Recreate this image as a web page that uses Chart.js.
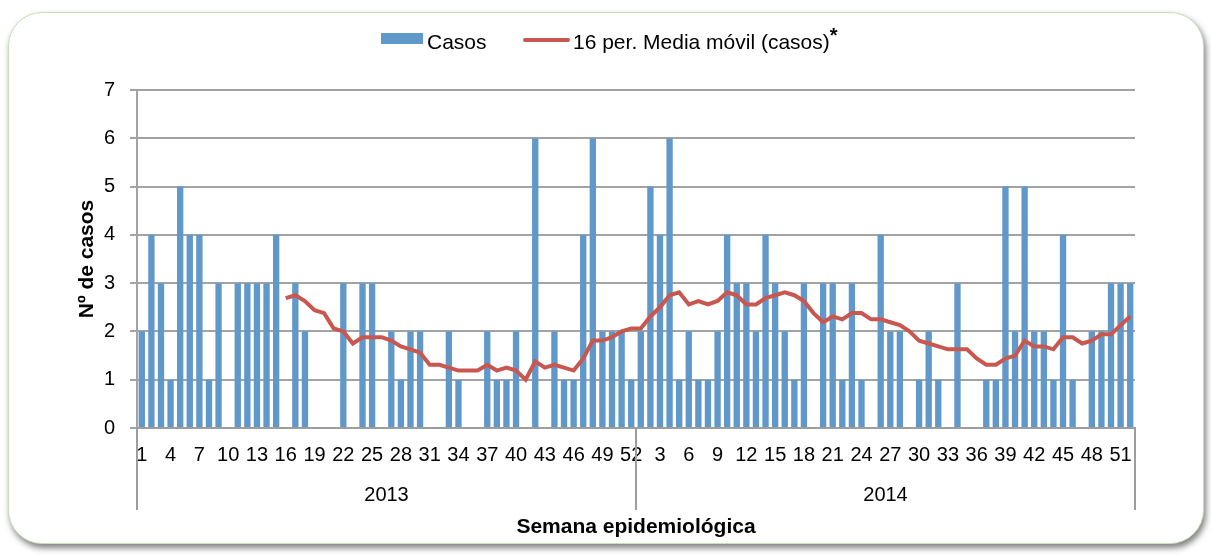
<!DOCTYPE html>
<html>
<head>
<meta charset="utf-8">
<script src="https://cdn.jsdelivr.net/npm/chart.js@4.4.1/dist/chart.umd.min.js"></script>
<style>
  html, body { margin: 0; padding: 0; background: #ffffff; }
  #wrap { position: relative; width: 1211px; height: 555px; overflow: hidden; font-family: "Liberation Sans", Arial, sans-serif; }
  #frame { position: absolute; left: 8px; top: 12px; width: 1194px; height: 530px; border: 1.5px solid #c7e0b5; border-radius: 34px; box-shadow: 2px 4px 6px rgba(0,0,0,0.5); background: #fff; }
  #c { position: absolute; left: 0; top: 0; }
  .lg { position: absolute; font-size: 21px; color: #000; line-height: 1; white-space: nowrap; }
</style>
</head>
<body>
<div id="wrap">
  <div id="frame"></div>
  <canvas id="c" width="1211" height="555"></canvas>
  <div style="position:absolute;left:381px;top:33px;width:42px;height:11px;background:#6198ca;"></div>
  <div class="lg" style="left:427px;top:31px;">Casos</div>
  <div style="position:absolute;left:523px;top:38px;width:47px;height:4px;background:#c8574f;border-radius:2px;"></div>
  <div class="lg" style="left:573px;top:31px;">16 per. Media móvil (casos)<span style="font-weight:bold;font-size:20px;position:relative;top:-7px;">*</span></div>
</div>
<script>
const weeks2013 = [1,2,3,4,5,6,7,8,9,10,11,12,13,14,15,16,17,18,19,20,21,22,23,24,25,26,27,28,29,30,31,32,33,34,35,36,37,38,39,40,41,42,43,44,45,46,47,48,49,50,51,52];
const weeks2014 = [1,2,3,4,5,6,7,8,9,10,11,12,13,14,15,16,17,18,19,20,21,22,23,24,25,26,27,28,29,30,31,32,33,34,35,36,37,38,39,40,41,42,43,44,45,46,47,48,49,50,51,52];
const years = ['2013', '2014'];

const casos = [
  2,4,3,1,5,4,4,1,3,0,3,3,3,3,4,0,3,2,0,0,0,3,0,3,3,0,
  2,1,2,2,0,0,2,1,0,0,2,1,1,2,0,6,0,2,1,1,4,6,2,2,2,1,
  2,5,4,6,1,2,1,1,2,4,3,3,2,4,3,2,1,3,0,3,3,1,3,1,0,4,
  2,2,0,1,2,1,0,3,0,0,1,1,5,2,5,2,2,1,4,1,0,2,2,3,3,3
];

const mediaMovil = [
  null,null,null,null,null,null,null,null,null,null,null,null,null,null,null,
  2.69,2.75,2.63,2.44,2.38,2.06,2.00,1.75,1.88,1.88,1.88,
  1.81,1.69,1.63,1.56,1.31,1.31,1.25,1.19,1.19,1.19,1.31,1.19,1.25,1.19,1.00,1.38,1.25,1.31,1.25,1.19,1.44,1.81,1.81,1.88,2.00,2.06,
  2.06,2.31,2.50,2.75,2.81,2.56,2.63,2.56,2.63,2.81,2.75,2.56,2.56,2.69,2.75,2.81,2.75,2.63,2.38,2.19,2.31,2.25,2.38,2.38,2.25,2.25,
  2.19,2.13,2.00,1.81,1.75,1.69,1.63,1.63,1.63,1.44,1.31,1.31,1.44,1.50,1.81,1.69,1.69,1.63,1.88,1.88,1.75,1.81,1.94,1.94,2.13,2.31
];

const labels = weeks2013.concat(weeks2014).map(String);
const FONT = '"Liberation Sans", Arial, sans-serif';

const groupPlugin = {
  id: 'groupPlugin',
  afterDraw(chart) {
    const ctx = chart.ctx;
    const xs = chart.scales.x;
    const bottom = chart.chartArea.bottom;
    const step = xs.getPixelForValue(1) - xs.getPixelForValue(0);
    const n1 = weeks2013.length;
    const n = labels.length;
    const b = [
      xs.getPixelForValue(0) - step / 2,
      xs.getPixelForValue(n1 - 1) + step / 2,
      xs.getPixelForValue(n - 1) + step / 2
    ];
    ctx.save();
    ctx.strokeStyle = '#9d9d9d';
    ctx.lineWidth = 2;
    b.forEach(x => {
      ctx.beginPath();
      ctx.moveTo(x, bottom);
      ctx.lineTo(x, bottom + 82);
      ctx.stroke();
    });
    ctx.fillStyle = '#000';
    ctx.font = '20px ' + FONT;
    ctx.textAlign = 'center';
    ctx.textBaseline = 'middle';
    ctx.fillText(years[0], (b[0] + b[1]) / 2, bottom + 67);
    ctx.fillText(years[1], (b[1] + b[2]) / 2, bottom + 67);
    ctx.restore();
  }
};

new Chart(document.getElementById('c'), {
  data: {
    labels: labels,
    datasets: [
      {
        type: 'line',
        label: '16 per. Media móvil (casos)*',
        data: mediaMovil,
        borderColor: '#c8574f',
        borderWidth: 4,
        pointRadius: 0,
        tension: 0,
        fill: false,
        order: 0
      },
      {
        type: 'bar',
        label: 'Casos',
        data: casos,
        backgroundColor: '#6198ca',
        borderWidth: 0,
        categoryPercentage: 1,
        barPercentage: 0.66,
        order: 1
      }
    ]
  },
  options: {
    responsive: false,
    animation: false,
    events: [],
    layout: { padding: { left: 0, right: 76, top: 90, bottom: 0 } },
    plugins: {
      legend: { display: false },
      tooltip: { enabled: false },
      title: { display: false }
    },
    scales: {
      x: {
        type: 'category',
        offset: true,
        grid: { display: false, drawTicks: false, tickLength: 0 },
        border: { display: true, color: '#9d9d9d', width: 2 },
        ticks: {
          autoSkip: false,
          maxRotation: 0,
          minRotation: 0,
          padding: 15,
          color: '#000',
          font: { family: FONT, size: 20 },
          callback: function (v, i) { return i % 3 === 0 ? labels[i] : ''; }
        },
        title: {
          display: true,
          text: 'Semana epidemiológica',
          color: '#000',
          font: { family: FONT, size: 21, weight: 'bold' },
          padding: { top: 0, bottom: 15 }
        },
        afterFit: function (s) { s.height = 127; }
      },
      y: {
        min: 0,
        max: 7,
        grid: { color: '#a3a3a3', lineWidth: 2, tickLength: 7, drawTicks: true },
        border: { display: true, color: '#a3a3a3', width: 2 },
        ticks: {
          stepSize: 1,
          padding: 15,
          color: '#000',
          font: { family: FONT, size: 20 }
        },
        title: {
          display: true,
          text: 'Nº de casos',
          color: '#000',
          font: { family: FONT, size: 21, weight: 'bold' },
          padding: { top: 75, bottom: 0 }
        },
        afterFit: function (s) { s.width = 137; }
      }
    }
  },
  plugins: [groupPlugin]
});
</script>
</body>
</html>
